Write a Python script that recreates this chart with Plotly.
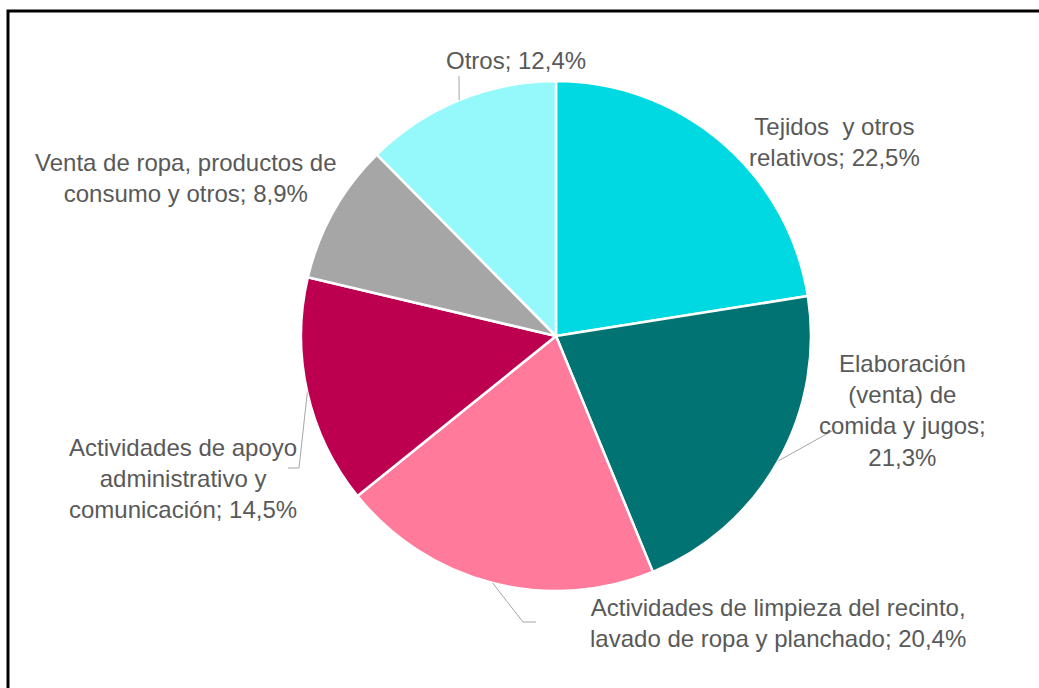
import math

import plotly.graph_objects as go

# data
labels = [
    "Tejidos  y otros<br>relativos; 22,5%",
    "Elaboración<br>(venta) de<br>comida y jugos;<br>21,3%",
    "Actividades de limpieza del recinto,<br>lavado de ropa y planchado; 20,4%",
    "Actividades de apoyo<br>administrativo y<br>comunicación; 14,5%",
    "Venta de ropa, productos de<br>consumo y otros; 8,9%",
    "Otros; 12,4%",
]
values = [22.5, 21.3, 20.4, 14.5, 8.9, 12.4]
colors = ["#00D9E1", "#007372", "#FF7A9B", "#BC004F", "#A6A6A6", "#95F9FC"]

W, H = 1039, 688
CX, CY, R = 556, 336, 255

# label centre (px) and leader end points (px); None = no leader line
label_pos = [(834, 142), (902, 411), (778, 623), (183, 478), (186, 178), (516, 60)]
leaders = [
    None,
    [(832, 431)],
    [(523, 622), (536, 622)],
    [(299, 468), (288, 468)],
    None,
    [(459, 76)],
]


def px(x):
    return x / W


def py(y):
    return 1 - y / H


fig = go.Figure(go.Pie(
    values=values,
    labels=[l.replace("<br>", " ") for l in labels],
    sort=False,
    direction="clockwise",
    rotation=0,
    textinfo="none",
    hoverinfo="label",
    marker=dict(colors=colors, line=dict(color="white", width=2.5)),
    domain=dict(x=[px(CX - R), px(CX + R)], y=[py(CY + R), py(CY - R)]),
    showlegend=False,
))

total = sum(values)
cum = 0
shapes = []
annotations = []
for i, v in enumerate(values):
    mid = (cum + v / 2) / total * 2 * math.pi
    cum += v
    if leaders[i]:
        pts = [(CX + R * math.sin(mid), CY - R * math.cos(mid))] + leaders[i]
        path = "M " + " L ".join(f"{px(x):.5f},{py(y):.5f}" for x, y in pts)
        shapes.append(dict(type="path", xref="paper", yref="paper", path=path,
                           line=dict(color="#A6A6A6", width=1)))
    lx, ly = label_pos[i]
    annotations.append(dict(
        x=px(lx), y=py(ly), xref="paper", yref="paper", text=labels[i],
        showarrow=False, xanchor="center", yanchor="middle", align="center",
        font=dict(family="Liberation Sans, Arial, sans-serif", size=24, color="#595959"),
    ))

# frame
shapes.append(dict(type="rect", xref="paper", yref="paper",
                   x0=px(8), x1=1.05, y0=-0.05, y1=py(11),
                   line=dict(color="black", width=3)))

fig.update_layout(
    width=W, height=H,
    margin=dict(l=0, r=0, t=0, b=0),
    paper_bgcolor="white",
    plot_bgcolor="white",
    shapes=shapes,
    annotations=annotations,
)

fig.write_html("out.html", config={"displayModeBar": False})

# drop the default page margin so the figure sits at the window's corner
with open("out.html", encoding="utf-8") as f:
    html = f.read()
html = html.replace("<body>", '<body style="margin:0;overflow:hidden">', 1)
with open("out.html", "w", encoding="utf-8") as f:
    f.write(html)
